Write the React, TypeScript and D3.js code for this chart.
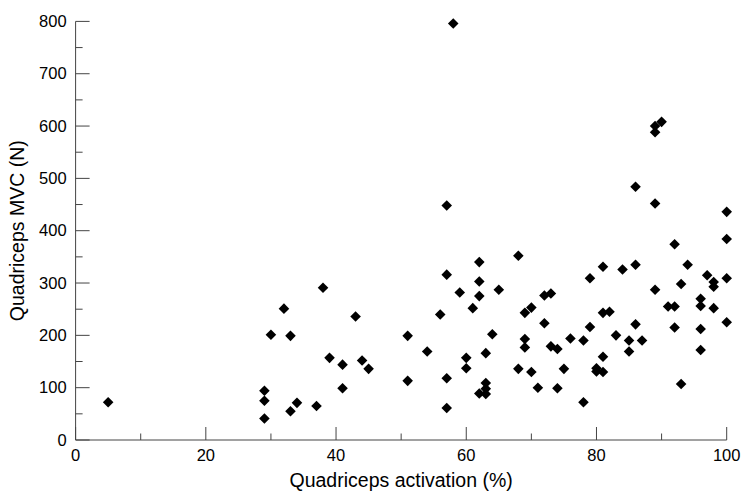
// App.tsx
import React, { useRef, useEffect } from "react";
import * as d3 from "d3";

// quadriceps activation (%) for each subject
const activation = [
  5, 30, 33, 29, 29, 29, 33, 34, 37,
  32, 38, 39, 41, 41, 43, 44, 45, 51, 51, 54, 56, 57, 57, 57, 57, 59, 60, 60, 61,
  62, 62, 62, 62, 63, 63, 63, 63, 64, 65, 68, 68,
  69, 70, 69, 69, 70, 71, 72, 73, 72, 73, 74, 74, 75, 76, 78, 78, 79, 79, 80, 80,
  81, 81, 82, 81, 81, 83, 84, 85, 85, 86, 86, 86, 87, 89, 89, 91, 92, 92, 92, 93,
  93, 94, 96, 96, 96, 96, 97, 98, 98, 98, 100, 100, 100, 100,
  90, 89, 89, 58,
];

// quadriceps MVC (N), same order
const mvc = [
  72, 201, 199, 94, 75, 41, 55, 71, 65,
  251, 291, 157, 144, 99, 236, 152, 136, 199, 113, 169, 240, 448, 316, 118, 61,
  282, 157, 137, 252, 340, 303, 275, 89, 166, 109, 98, 88, 202, 287, 352, 136,
  243, 253, 193, 177, 130, 100, 276, 280, 223, 179, 174, 99, 136, 194, 190, 72,
  309, 216, 137, 131, 331, 243, 245, 159, 130, 200, 326, 190, 169, 484, 335, 221,
  190, 452, 287, 255, 255, 374, 215, 298, 107, 335, 270, 256, 212, 172, 315, 302,
  293, 252, 436, 384, 309, 225,
  608, 600, 588, 796,
];

const xTicks = [0, 20, 40, 60, 80, 100];
const xMinorTicks = [10, 30, 50, 70, 90];
const yTicks = [0, 100, 200, 300, 400, 500, 600, 700, 800];
const yMinorTicks = [50, 150, 250, 350, 450, 550, 650, 750];

const xLabel = "Quadriceps activation (%)";
const yLabel = "Quadriceps MVC (N)";

const W = 741;
const H = 491;

const App = () => {
  const ref = useRef<SVGSVGElement>(null);

  useEffect(() => {
    document.body.style.margin = "0";
    const svgEl = ref.current;
    if (!svgEl) return;
    const svg = d3.select(svgEl);
    svg.selectAll("*").remove();

    const margin = { top: 21.4, right: 14.3, bottom: 51, left: 75.6 };
    const width = W - margin.left - margin.right;
    const height = H - margin.top - margin.bottom;
    const font = "'Liberation Sans', Arial, sans-serif";
    const axisColor = "#444";

    const g = svg
      .append("g")
      .attr("transform", `translate(${margin.left},${margin.top})`);

    const x = d3.scaleLinear().domain([0, 100]).range([0, width]);
    const y = d3.scaleLinear().domain([0, 800]).range([height, 0]);

    // x axis, ticks pointing up into the plot
    const xAxis = g.append("g").attr("transform", `translate(0,${height})`);
    xAxis
      .append("line")
      .attr("x1", 0)
      .attr("x2", width)
      .attr("stroke", axisColor);
    xAxis
      .selectAll(".major")
      .data(xTicks)
      .join("line")
      .attr("x1", (d) => x(d))
      .attr("x2", (d) => x(d))
      .attr("y1", 0)
      .attr("y2", -13)
      .attr("stroke", axisColor);
    xAxis
      .selectAll(".minor")
      .data(xMinorTicks)
      .join("line")
      .attr("x1", (d) => x(d))
      .attr("x2", (d) => x(d))
      .attr("y1", 0)
      .attr("y2", -6.5)
      .attr("stroke", axisColor);
    xAxis
      .selectAll("text")
      .data(xTicks)
      .join("text")
      .attr("x", (d) => x(d))
      .attr("y", 21)
      .attr("text-anchor", "middle")
      .attr("font-family", font)
      .attr("font-size", 16.5)
      .attr("fill", "#000")
      .text((d) => d);

    // y axis, ticks pointing right into the plot
    const yAxis = g.append("g");
    yAxis
      .append("line")
      .attr("y1", 0)
      .attr("y2", height)
      .attr("stroke", axisColor);
    yAxis
      .selectAll(".major")
      .data(yTicks)
      .join("line")
      .attr("y1", (d) => y(d))
      .attr("y2", (d) => y(d))
      .attr("x1", 0)
      .attr("x2", 14)
      .attr("stroke", axisColor);
    yAxis
      .selectAll(".minor")
      .data(yMinorTicks)
      .join("line")
      .attr("y1", (d) => y(d))
      .attr("y2", (d) => y(d))
      .attr("x1", 0)
      .attr("x2", 7)
      .attr("stroke", axisColor);
    yAxis
      .selectAll("text")
      .data(yTicks)
      .join("text")
      .attr("x", -9)
      .attr("y", (d) => y(d))
      .attr("dy", "0.35em")
      .attr("text-anchor", "end")
      .attr("font-family", font)
      .attr("font-size", 16.5)
      .attr("fill", "#000")
      .text((d) => d);

    // axis titles
    g.append("text")
      .attr("x", width / 2)
      .attr("y", height + 47)
      .attr("text-anchor", "middle")
      .attr("font-family", font)
      .attr("font-size", 19.5)
      .text(xLabel);

    g.append("text")
      .attr("transform", `translate(${-51.5},${height / 2}) rotate(-90)`)
      .attr("text-anchor", "middle")
      .attr("font-family", font)
      .attr("font-size", 19.5)
      .text(yLabel);

    // diamond markers (rotated squares)
    const diamond = d3.symbol().type(d3.symbolSquare).size(56);
    const points = activation.map((a, i) => ({ a, m: mvc[i] }));
    g.selectAll("path.pt")
      .data(points)
      .join("path")
      .attr("class", "pt")
      .attr("d", diamond)
      .attr("transform", (d) => `translate(${x(d.a)},${y(d.m)}) rotate(45)`)
      .attr("fill", "#000");
  }, []);

  return <svg ref={ref} width={W} height={H} style={{ display: "block" }} />;
};

export default App;
